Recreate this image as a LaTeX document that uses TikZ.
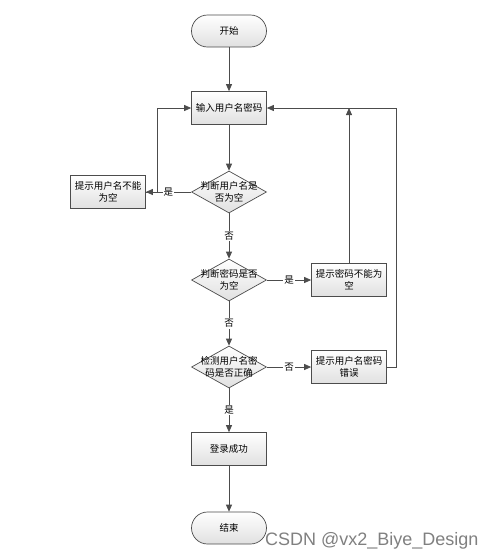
\documentclass[tikz,border=0pt]{standalone}
\usepackage{fontspec}
\newfontfamily\cjk{Noto Sans CJK SC}
\newfontfamily\wmfont{Liberation Sans}
\usetikzlibrary{shapes.geometric,arrows.meta}
\begin{document}
\begin{tikzpicture}[x=1pt,y=-1pt,
  every node/.style={font=\cjk\fontsize{9.5}{12}\selectfont},
  shadebox/.style={draw=black!70, line width=0.7pt, top color=white, bottom color=black!12},
  proc/.style={shadebox, rectangle, minimum width=75pt, minimum height=33pt, align=center, text width=72pt, inner sep=1pt},
  term/.style={shadebox, rectangle, rounded corners=16pt, minimum width=75pt, minimum height=32pt, inner sep=1pt},
  dec/.style={shadebox, diamond, minimum width=75pt, minimum height=42pt, inner sep=0pt},
  dectext/.style={label={[align=center,font=\cjk\fontsize{9.5}{12}\selectfont]center:#1}},
  arr/.style={draw=black!70, line width=0.8pt, -{Triangle[length=7pt,width=6pt]}},
  lbl/.style={fill=white, inner sep=1pt}
]
\useasboundingbox[fill=white] (0,0) rectangle (497,558);

\node[term] (start) at (229,31) {开始};
\node[proc] (input) at (229,108) {输入用户名密码};
\node[dec, dectext={判断用户名是\\否为空}] (d1) at (229,192) {};
\node[proc] (b1) at (108,192) {提示用户名不能\\为空};
\node[dec, dectext={判断密码是否\\为空}] (d2) at (229,280) {};
\node[proc] (b2) at (349,280) {提示密码不能为\\空};
\node[dec, dectext={检测用户名密\\码是否正确}] (d3) at (229,367) {};
\node[proc] (b3) at (349,367) {提示用户名密码\\错误};
\node[proc] (ok) at (229,449) {登录成功};
\node[term] (end) at (229,528) {结束};

\draw[arr] (start) -- (input);
\draw[arr] (input) -- (d1);
\draw[arr] (d1) -- node[lbl]{是} (b1);
\draw[arr] (b1.east) -- ++(12,0) |- (input.west);
\draw[arr] (d1) -- node[lbl]{否} (d2);
\draw[arr] (d2) -- node[lbl]{是} (b2);
\draw[arr] (b2.north) -- (b2.north |- input.east);
\draw[arr] (d2) -- node[lbl]{否} (d3);
\draw[arr] (d3) -- node[lbl]{否} (b3);
\draw[arr] (b3.east) -- ++(10,0) |- (input.east);
\draw[arr] (d3) -- node[lbl]{是} (ok);
\draw[arr] (ok) -- (end);

\node[anchor=base west, inner sep=0pt, text=black!50, font=\wmfont\fontsize{18}{20}\selectfont] (wm) at (265,545) {CSDN @vx2\_Biye\_Design};
\end{tikzpicture}
\end{document}
